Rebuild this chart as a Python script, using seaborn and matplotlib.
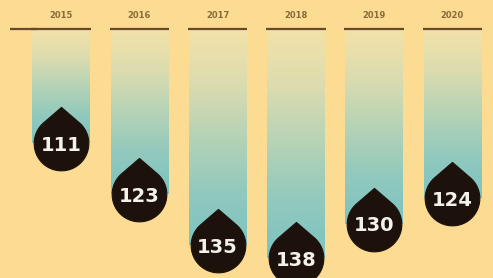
import numpy as np
import matplotlib
matplotlib.use("Agg")
import matplotlib.pyplot as plt
from matplotlib.path import Path
from matplotlib.colors import LinearSegmentedColormap
from matplotlib.transforms import blended_transform_factory, offset_copy
import seaborn as sns
import pandas as pd

# ---- data ----
years = ["2015", "2016", "2017", "2018", "2019", "2020"]
values = [111, 123, 135, 138, 130, 124]

# ---- style ----
BG = "#FCDC93"
LINE = "#6a4a26"
DROP = "#1d110c"
sns.set_theme(style="white")
plt.rcParams["font.family"] = ["DejaVu Sans"]

base = 84.2
fig = plt.figure(figsize=(4.93, 2.78), dpi=100, facecolor=BG)
ax = fig.add_axes([0, 0, 1, 1])
ax.set_facecolor(BG)

df = pd.DataFrame({"year": years, "value": values})
df["length"] = df["value"] - base

sns.barplot(data=df, x="year", y="length", bottom=base, width=0.73,
            color="#7fc0bb", saturation=1, edgecolor="none", linewidth=0, ax=ax)

cmap = LinearSegmentedColormap.from_list(
    "bar", ["#F4E2A8", "#DCDCAF", "#B6D3B6", "#92C9BD", "#7CC3C2"])
grad = np.linspace(0, 1, 256).reshape(-1, 1)
for p in list(ax.patches):
    x0 = p.get_x()
    w = p.get_width()
    y0 = p.get_y()
    h = p.get_height()
    p.set_facecolor("none")
    im = ax.imshow(grad, extent=(x0, x0 + w, y0 + h, y0), origin="upper",
                   cmap=cmap, aspect="auto", zorder=1, interpolation="bicubic")
    im.set_clip_path(p)

# teardrop marker
r = 1.0
tip = 1.32
alpha = np.arccos(r / tip)
a0 = np.pi / 2 + alpha
a1 = np.pi / 2 - alpha + 2 * np.pi
ang = np.linspace(a0, a1, 80)
verts = [(0, tip)] + [(np.cos(a), np.sin(a)) for a in ang] + [(0, tip)]
codes = [Path.MOVETO] + [Path.LINETO] * (len(verts) - 2) + [Path.CLOSEPOLY]
drop = Path(verts, codes)

n = len(years)
sns.scatterplot(x=np.arange(n), y=values, marker=drop, s=2700, color=DROP,
                edgecolor=DROP, linewidth=0.8, zorder=3, ax=ax, legend=False)

toff = offset_copy(ax.transData, fig=fig, x=0, y=-2, units="dots")
for i, v in enumerate(values):
    ax.text(i, v, str(v), ha="center", va="center", color="#f4f0ea",
            fontsize=14, fontweight="bold", transform=toff, zorder=4)

# top rules and year labels
ax.hlines([base] * n, np.arange(n) - 0.38, np.arange(n) + 0.38,
          color=LINE, linewidth=1.6, zorder=2)
ax.hlines([base], -0.65, -0.3, color=LINE, linewidth=1.6, zorder=2)
bt = blended_transform_factory(ax.transData, ax.transAxes)
for i, y in enumerate(years):
    ax.text(i, 0.945, y, ha="center", va="center", color="#8a6a36",
            fontsize=6, fontweight="bold", transform=bt)

ax.set_xlim(-0.78, 5.52)
ax.set_ylim(142.69, 77.43)
ax.axis("off")

fig.savefig("out.png", dpi=100, facecolor=BG)
